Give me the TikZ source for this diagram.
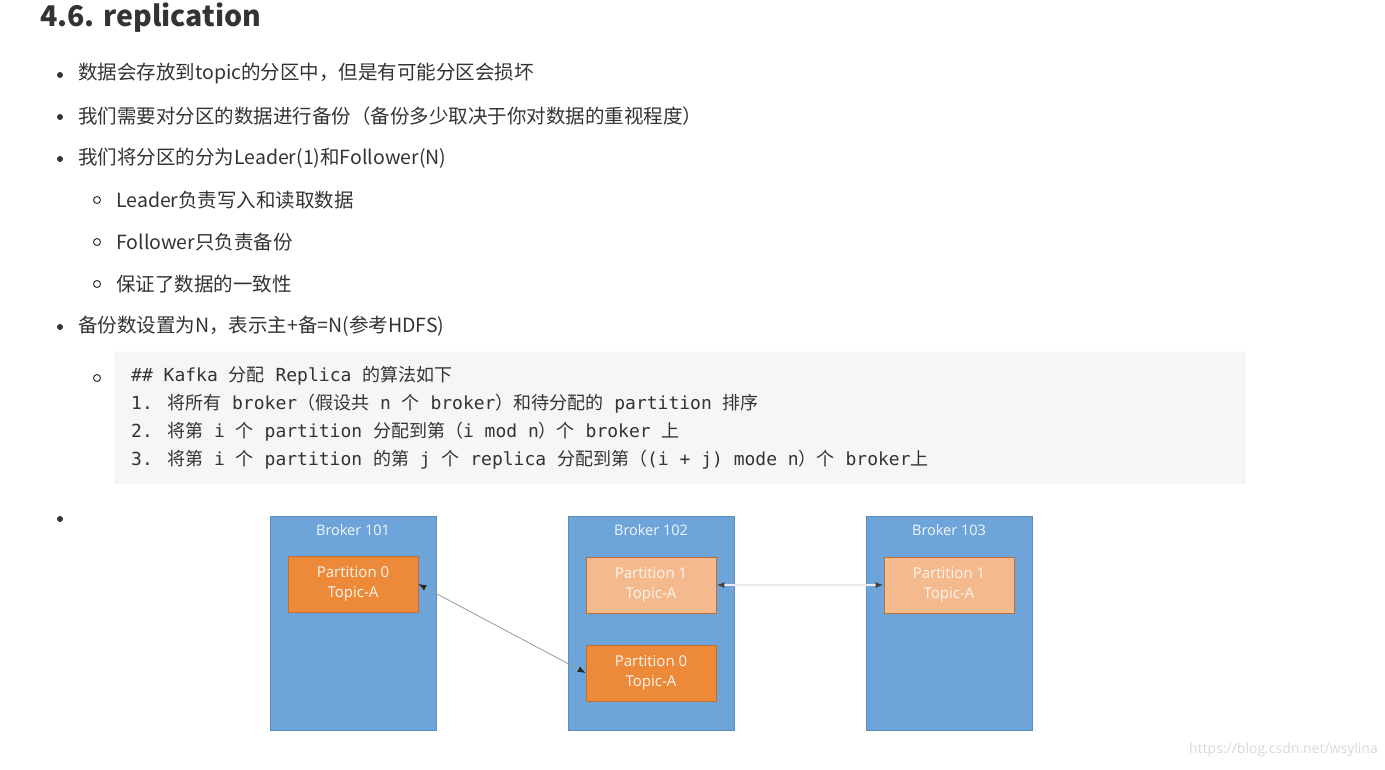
\documentclass[tikz,border=0pt]{standalone}
\usepackage{fontspec}
\setmainfont{Noto Sans CJK SC}
\newfontfamily\codefont{DejaVu Sans Mono}
\newfontfamily\cjkfont{Noto Sans CJK SC}
\newfontfamily\diagfont{Open Sans}
\newcommand\cj[1]{{\cjkfont #1}}
\usetikzlibrary{arrows.meta}
\definecolor{brokerc}{HTML}{6DA5DB}
\definecolor{orangec}{HTML}{ED8A3A}
\definecolor{lightc}{HTML}{F5B98E}
\definecolor{txt}{HTML}{333333}
\begin{document}
\begin{tikzpicture}[x=1pt,y=-1pt,
  txtline/.style={anchor=west,inner sep=0,font=\fontsize{19.5}{22}\selectfont,text=txt},
  codeline/.style={anchor=west,inner sep=0,font=\codefont\fontsize{18}{20}\selectfont,text=txt},
  dot/.style={circle,fill=txt,inner sep=0,minimum size=6pt},
  ring/.style={circle,draw=txt,line width=1pt,inner sep=0,minimum size=7pt},
  broker/.style={fill=brokerc,draw=brokerc!85!black,line width=0.5pt},
  blabel/.style={font=\diagfont\fontsize{14.5}{16}\selectfont,text=white!92!brokerc},
  part/.style={draw=orangec!80!black,line width=0.6pt,minimum width=130pt,minimum height=56pt,align=center,font=\diagfont\fontsize{15}{20}\selectfont,inner sep=0},
  lead/.style={part,fill=orangec,text=white!92!orangec},
  foll/.style={part,fill=lightc,text=white!85!lightc},
  tipA/.tip={Latex[length=8pt,width=6pt,color=black!85]},
  tipB/.tip={Latex[length=8pt,width=6pt,color=black!75]}]
\useasboundingbox (0,0) rectangle (1385,769);
\fill[white] (0,0) rectangle (1385,769);
\node[anchor=west,inner sep=0,font=\bfseries\fontsize{28.5}{30}\selectfont,text=txt] (title) at (40,18) {4.6. replication};
\node[dot] (d1) at (60,75) {}; \node[txtline] (t1) at (78,74) {数据会存放到topic的分区中，但是有可能分区会损坏};
\node[dot] (d2) at (60,117) {}; \node[txtline] (t2) at (78,116) {我们需要对分区的数据进行备份（备份多少取决于你对数据的重视程度）};
\node[dot] (d3) at (60,159) {}; \node[txtline] (t3) at (78,158) {我们将分区的分为Leader(1)和Follower(N)};
\node[ring] (r1) at (97,200) {}; \node[txtline] (s1) at (116,200) {Leader负责写入和读取数据};
\node[ring] (r2) at (97,242) {}; \node[txtline] (s2) at (116,242) {Follower只负责备份};
\node[ring] (r3) at (97,284) {}; \node[txtline] (s3) at (116,284) {保证了数据的一致性};
\node[dot] (d4) at (60,327) {}; \node[txtline] (t4) at (78,326) {备份数设置为N，表示主+备=N(参考HDFS)};
\node[ring] (r4) at (97,378) {};
\draw[fill=black!3.5,draw=black!10,rounded corners=2pt] (115,352) rectangle (1245,483);
\node[codeline] (c1) at (131,376) {\#\# Kafka \cj{分配} Replica \cj{的算法如下}};
\node[codeline] (c2) at (131,404) {1. \cj{将所有} broker\cj{（假设共} n \cj{个} broker\cj{）和待分配的} partition \cj{排序}};
\node[codeline] (c3) at (131,432) {2. \cj{将第} i \cj{个} partition \cj{分配到第（}i mod n\cj{）个} broker \cj{上}};
\node[codeline] (c4) at (131,460) {3. \cj{将第} i \cj{个} partition \cj{的第} j \cj{个} replica \cj{分配到第（}(i + j) mode n\cj{）个} broker\cj{上}};
\node[dot] (d5) at (60,519) {};
\draw[broker] (270,516) rectangle (436,730);
\draw[broker] (568,516) rectangle (734,730);
\draw[broker] (866,516) rectangle (1032,730);
\node[blabel] (b1) at (353,530) {Broker 101};
\node[blabel] (b2) at (651,530) {Broker 102};
\node[blabel] (b3) at (949,530) {Broker 103};
\node[lead] (p1) at (353,584) {Partition 0\\Topic-A};
\node[foll] (p2) at (651,585) {Partition 1\\Topic-A};
\node[lead] (p3) at (651,673) {Partition 0\\Topic-A};
\node[foll] (p4) at (949,585) {Partition 1\\Topic-A};
\draw[draw=black!40,line width=0.8pt,tipA-tipA] (p1.east) -- (p3.west);
\draw[draw=black!8,line width=1.8pt,tipB-tipB] (p2.east) -- (p4.west);
\node[anchor=east,inner sep=0,font=\diagfont\fontsize{14}{16}\selectfont,text=black!15] (wm) at (1378,750) {https://blog.csdn.net/wsylina};
\end{tikzpicture}
\end{document}
